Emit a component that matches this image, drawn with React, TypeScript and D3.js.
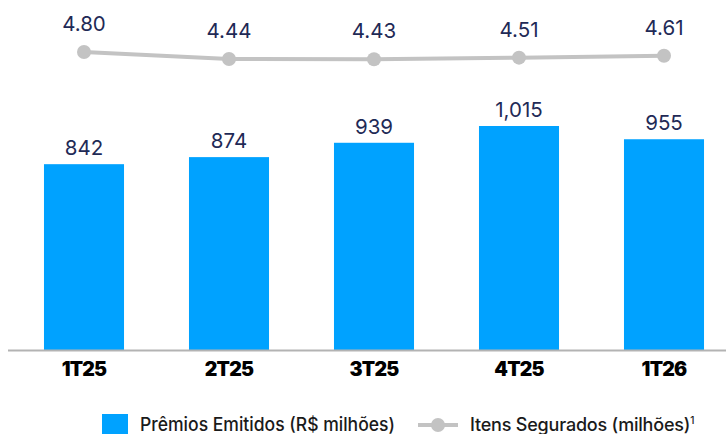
import React from "react";
import * as d3 from "d3";

const categories = ["1T25", "2T25", "3T25", "4T25", "1T26"];
const premios = [842, 874, 939, 1015, 955];
const premiosLabels = ["842", "874", "939", "1,015", "955"];
const itens = [4.8, 4.44, 4.43, 4.51, 4.61];
const itensLabels = ["4.80", "4.44", "4.43", "4.51", "4.61"];

const W = 726;
const H = 434;

export default function App() {
  const x = d3.scaleBand<string>().domain(categories).range([11.5, 736.5]).paddingInner(0.448).paddingOuter(0.224);
  const yBar = d3.scaleLinear().domain([0, 1015]).range([350, 126]);
  const yLine = d3.scaleLinear().domain([4.43, 4.8]).range([59.2, 52]);
  const cx = (c: string) => (x(c) as number) + x.bandwidth() / 2;
  const line = d3
    .line<number>()
    .x((_, i) => cx(categories[i]))
    .y((d) => yLine(d));
  const numFont = "Inter, Roboto, 'Noto Sans', sans-serif";
  return (
    <svg width={W} height={H} style={{ position: "absolute", left: 0, top: 0 }}>
      <rect width={W} height={H} fill="#fff" />
      {categories.map((c, i) => (
        <g key={c}>
          <rect x={x(c)} y={yBar(premios[i])} width={x.bandwidth()} height={yBar(0) - yBar(premios[i])} fill="#00a2ff" />
          <text x={cx(c)} y={yBar(premios[i]) - 9} textAnchor="middle" fontFamily={numFont} fontSize={20.5} fill="#1f2a56">
            {premiosLabels[i]}
          </text>
          <text x={cx(c)} y={376} textAnchor="middle" fontFamily={numFont} fontWeight={900} fontSize={19.5} fill="#000" letterSpacing={-0.8}>
            {c}
          </text>
        </g>
      ))}
      <line x1={8} x2={726} y1={350.5} y2={350.5} stroke="#b3b3b3" strokeWidth={2} />
      <path d={line(itens) as string} fill="none" stroke="#c3c3c3" strokeWidth={4} />
      {itens.map((v, i) => (
        <g key={i}>
          <circle cx={cx(categories[i])} cy={yLine(v)} r={7} fill="#c3c3c3" />
          <text x={cx(categories[i])} y={yLine(v) - 21} textAnchor="middle" fontFamily={numFont} fontSize={20.5} fill="#1f2a56">
            {itensLabels[i]}
          </text>
        </g>
      ))}
      <rect x={102} y={414} width={26} height={20} fill="#00a2ff" />
      <text x={140} y={431} fontFamily={numFont} fontSize={18.5} fontWeight={500} fill="#1a1a1a" textLength={255} lengthAdjust="spacingAndGlyphs">
        Prêmios Emitidos (R$ milhões)
      </text>
      <line x1={418} x2={458} y1={425} y2={425} stroke="#c3c3c3" strokeWidth={4} />
      <circle cx={438} cy={425} r={7} fill="#c3c3c3" />
      <text x={470} y={431} fontFamily={numFont} fontSize={18} fontWeight={500} fill="#1a1a1a" letterSpacing={-0.2}>
        Itens Segurados (milhões)<tspan fontSize={10} dy={-7}>1</tspan>
      </text>
    </svg>
  );
}
